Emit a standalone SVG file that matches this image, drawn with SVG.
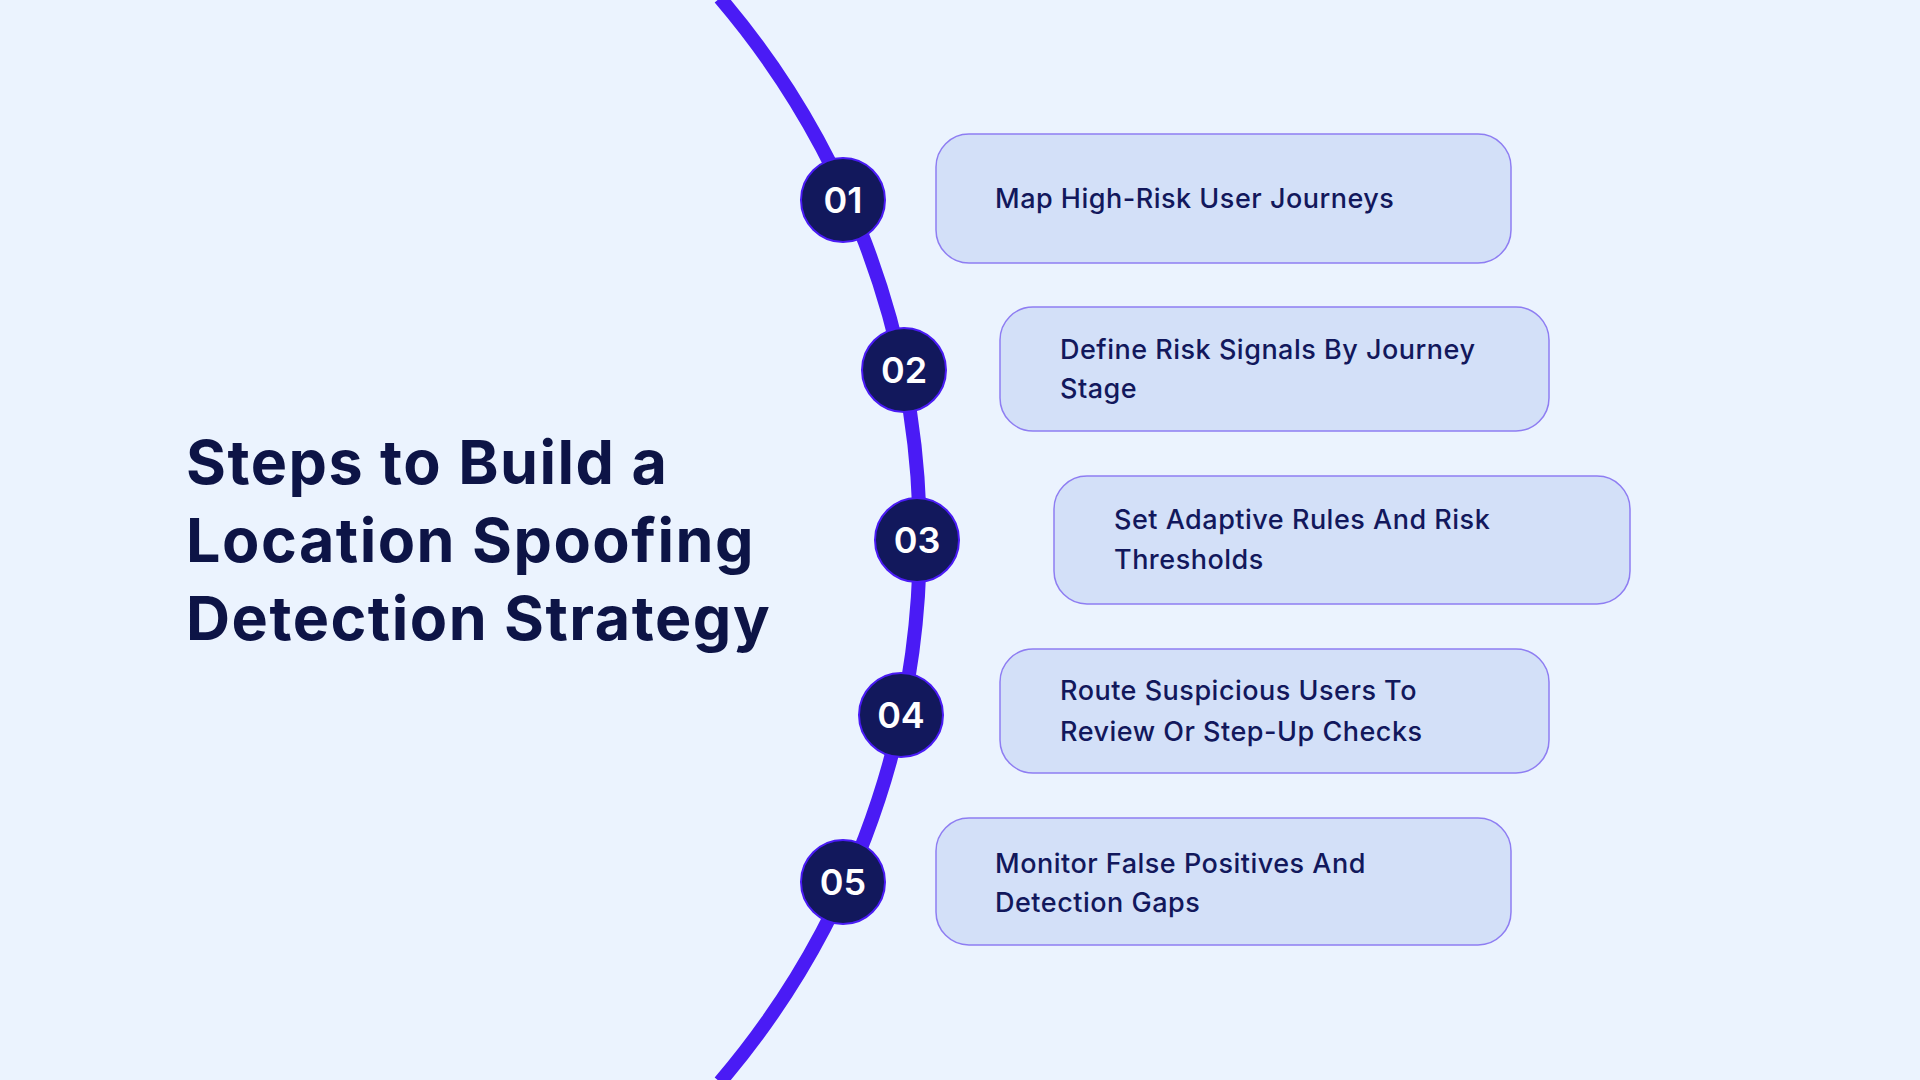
<svg xmlns="http://www.w3.org/2000/svg" width="1920" height="1080" viewBox="0 0 1920 1080">
<style>
.box{fill:#D3E0F8;stroke:#8E7DF2;stroke-width:1.5}
.num{fill:#12185C;stroke:#4A1BF5;stroke-width:2}
.nt{font-family:Inter,"Liberation Sans",sans-serif;font-weight:600;font-size:36px;fill:#fff;text-anchor:middle}
.lt{font-family:Inter,"Liberation Sans",sans-serif;font-weight:500;font-size:27px;fill:#12185C;letter-spacing:0.5px}
.tt{font-family:Inter,"Liberation Sans",sans-serif;font-weight:700;font-size:61px;fill:#0D1446;letter-spacing:1.5px}
</style>
<rect width="1920" height="1080" fill="#EBF3FE"/>
<g id="title"><text class="tt" x="186" y="484">Steps to Build a</text><text class="tt" x="186" y="562">Location Spoofing</text><text class="tt" x="186" y="640">Detection Strategy</text></g>
<g id="connectors"><path d="M720,-2 A835,835 0 0 1 720,1082" fill="none" stroke="#4A1BF5" stroke-width="14"/></g>
<g id="step1"><circle class="num" cx="843" cy="200" r="42"/><text class="nt" x="843" y="213">01</text><rect class="box" x="936" y="134" width="575" height="129" rx="33"/><text class="lt" x="995" y="208">Map High-Risk User Journeys</text></g>
<g id="step2"><circle class="num" cx="904" cy="370" r="42"/><text class="nt" x="904" y="383">02</text><rect class="box" x="1000" y="307" width="549" height="124" rx="33"/><text class="lt" x="1060" y="359">Define Risk Signals By Journey</text><text class="lt" x="1060" y="398">Stage</text></g>
<g id="step3"><circle class="num" cx="917" cy="540" r="42"/><text class="nt" x="917" y="553">03</text><rect class="box" x="1054" y="476" width="576" height="128" rx="33"/><text class="lt" x="1114" y="529">Set Adaptive Rules And Risk</text><text class="lt" x="1114" y="569">Thresholds</text></g>
<g id="step4"><circle class="num" cx="901" cy="715" r="42"/><text class="nt" x="901" y="728">04</text><rect class="box" x="1000" y="649" width="549" height="124" rx="33"/><text class="lt" x="1060" y="700">Route Suspicious Users To</text><text class="lt" x="1060" y="741">Review Or Step-Up Checks</text></g>
<g id="step5"><circle class="num" cx="843" cy="882" r="42"/><text class="nt" x="843" y="895">05</text><rect class="box" x="936" y="818" width="575" height="127" rx="33"/><text class="lt" x="995" y="873">Monitor False Positives And</text><text class="lt" x="995" y="912">Detection Gaps</text></g>
</svg>
